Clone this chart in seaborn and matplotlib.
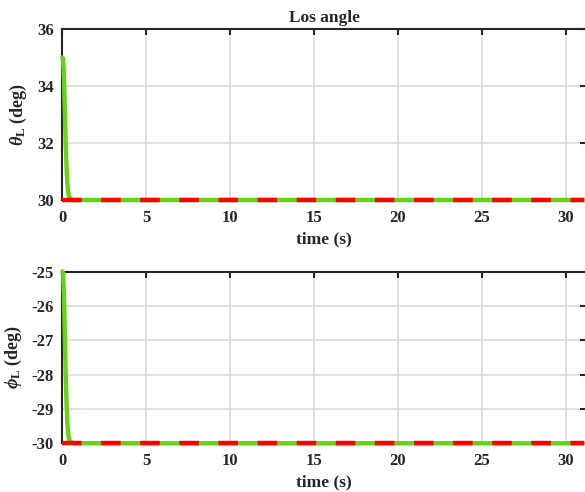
import numpy as np
import pandas as pd
import matplotlib
matplotlib.use("Agg")
import matplotlib.pyplot as plt
import matplotlib.transforms as mtransforms
import seaborn as sns

# ---- data ----
time_s = [0.0, 0.05, 0.1, 0.15, 0.2, 0.25, 0.3, 0.35, 0.4, 0.5, 0.7, 1.0, 5.0, 10.0, 20.0, 31.1]
theta_actual = [35.0, 34.95, 34.3, 33.2, 32.1, 31.2, 30.6, 30.3, 30.12, 30.03, 30.0, 30.0, 30.0, 30.0, 30.0, 30.0]
phi_actual = [-25.0, -25.05, -25.7, -26.8, -27.9, -28.8, -29.4, -29.7, -29.88, -29.97, -30.0, -30.0, -30.0, -30.0, -30.0, -30.0]
theta_desired = [30.0] * len(time_s)
phi_desired = [-30.0] * len(time_s)

x_ticks = [0, 5, 10, 15, 20, 25, 30]
theta_ticks = [30, 32, 34, 36]
phi_ticks = [-30, -29, -28, -27, -26, -25]

sns.set_style("white")
plt.rcParams['font.family'] = ['Liberation Serif', 'DejaVu Serif']
plt.rcParams['font.weight'] = 'bold'
plt.rcParams['axes.unicode_minus'] = False
plt.rcParams['mathtext.fontset'] = 'custom'
plt.rcParams['mathtext.rm'] = 'Liberation Serif:bold'
plt.rcParams['mathtext.it'] = 'Liberation Serif:italic:bold'
plt.rcParams['mathtext.bf'] = 'Liberation Serif:bold'

fig = plt.figure(figsize=(5.85, 4.92), dpi=100)
W, H = 585, 492
def axpos(l, t, r, b):
    return [l / W, 1 - b / H, (r - l) / W, (b - t) / H]

ax1 = fig.add_axes(axpos(62.3, 29, 586, 200))
ax2 = fig.add_axes(axpos(62.3, 271.5, 586, 443.3))

green = '#66d414'
red = '#ff0000'

df1 = pd.DataFrame({'t': time_s, 'act': theta_actual, 'des': theta_desired})
df2 = pd.DataFrame({'t': time_s, 'act': phi_actual, 'des': phi_desired})

for ax, df, yl, yt, ylab, ylx in [
    (ax1, df1, (30, 36), theta_ticks, r'$\theta_{\mathbf{L}}$ (deg)', 29),
    (ax2, df2, (-30, -25), phi_ticks, r'$\phi_{\mathbf{L}}$ (deg)', 24),
]:
    sns.lineplot(data=df, x='t', y='act', ax=ax, color=green, lw=3.2,
                 estimator=None, sort=False, zorder=3, clip_on=False)
    l = sns.lineplot(data=df, x='t', y='des', ax=ax, color=red, lw=3.2,
                     estimator=None, sort=False, zorder=4, clip_on=False)
    l.lines[-1].set_dashes([4.4, 4.4])
    l.lines[-1].set_dash_capstyle('butt')
    ax.set_xlim(0, 31.2)
    ax.set_ylim(*yl)
    ax.set_xticks(x_ticks)
    ax.set_yticks(yt)
    ax.grid(True, color='#dcdcdc', lw=1.2)
    ax.set_axisbelow(True)
    for s in ax.spines.values():
        s.set_color('#262626')
        s.set_linewidth(1.5)
        s.set_visible(True)
    ax.tick_params(direction='in', length=4, width=1.5, top=True, right=True,
                   labelsize=12, colors='#262626')
    ax.tick_params(axis='x', pad=7)
    ax.tick_params(axis='y', pad=6)
    for lab in ax.get_xticklabels() + ax.get_yticklabels():
        lab.set_fontweight('bold')
    ax.set_xlabel('time (s)', fontsize=12.5, fontweight='bold', labelpad=4, color='#262626')
    ax.set_ylabel(ylab, fontsize=13, fontweight='bold', color='#262626')
    tr = mtransforms.blended_transform_factory(fig.transFigure, ax.transAxes)
    ax.yaxis.set_label_coords(ylx / W, 0.5, transform=tr)

ax1.set_title('Los angle', fontsize=12.5, fontweight='bold', pad=5, color='#262626')

fig.savefig('out.png', dpi=100)
